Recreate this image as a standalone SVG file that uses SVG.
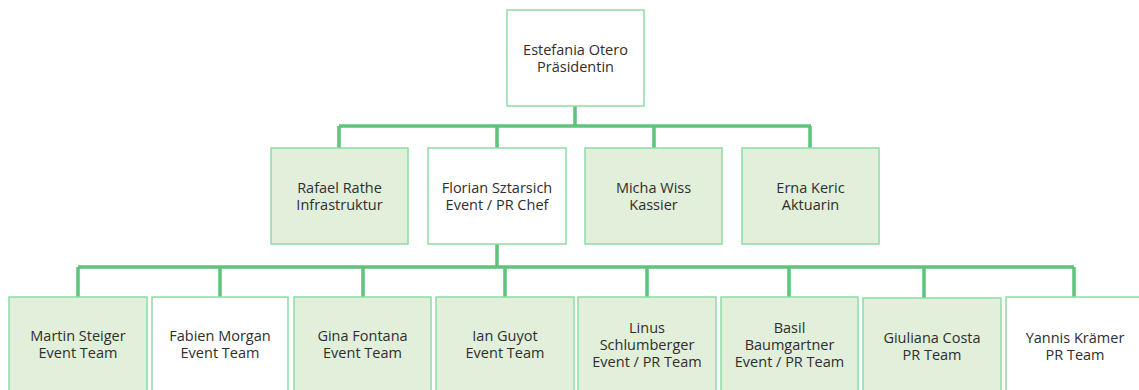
<svg xmlns="http://www.w3.org/2000/svg" width="1139" height="390" viewBox="0 0 1139 390">
<style>
.box{stroke:#8edba4;stroke-width:1.5}
.g{fill:#e2efda}
.w{fill:#ffffff}
.t{font-family:"Open Sans","Liberation Sans",sans-serif;font-size:14.5px;fill:#2e2e2e;text-anchor:middle}
.c{fill:none;stroke:#5cc47b;stroke-width:3.5}
</style>
<rect width="1139" height="390" fill="#ffffff"/>
<g id="connectors">
<path class="c" d="M575 106V126M339 126H811M339 126V148M497 126V148M654 126V148M810 126V148"/>
<path class="c" d="M497 244V267M78 267H1074M78 267V297M220 267V297M363 267V297M505 267V297M647 267V297M789 267V297M924 267V298M1074 267V297"/>
</g>
<g id="n_otero"><rect class="box w" x="507" y="10" width="137" height="96"/><text class="t" x="575.5" y="55">Estefania Otero</text><text class="t" x="575.5" y="72">Präsidentin</text></g>
<g id="n_rathe"><rect class="box g" x="271" y="148" width="137" height="96"/><text class="t" x="339.5" y="193">Rafael Rathe</text><text class="t" x="339.5" y="210">Infrastruktur</text></g>
<g id="n_sztarsich"><rect class="box w" x="428" y="148" width="138" height="96"/><text class="t" x="497" y="193">Florian Sztarsich</text><text class="t" x="497" y="210">Event / PR Chef</text></g>
<g id="n_wiss"><rect class="box g" x="585" y="148" width="137" height="96"/><text class="t" x="653.5" y="193">Micha Wiss</text><text class="t" x="653.5" y="210">Kassier</text></g>
<g id="n_keric"><rect class="box g" x="742" y="148" width="137" height="96"/><text class="t" x="810.5" y="193">Erna Keric</text><text class="t" x="810.5" y="210">Aktuarin</text></g>
<g id="n_steiger"><rect class="box g" x="9" y="297" width="138" height="96"/><text class="t" x="78" y="341">Martin Steiger</text><text class="t" x="78" y="358">Event Team</text></g>
<g id="n_morgan"><rect class="box w" x="152" y="297" width="136" height="96"/><text class="t" x="220" y="341">Fabien Morgan</text><text class="t" x="220" y="358">Event Team</text></g>
<g id="n_fontana"><rect class="box g" x="294" y="297" width="137" height="96"/><text class="t" x="362.5" y="341">Gina Fontana</text><text class="t" x="362.5" y="358">Event Team</text></g>
<g id="n_guyot"><rect class="box g" x="436" y="297" width="138" height="96"/><text class="t" x="505" y="341">Ian Guyot</text><text class="t" x="505" y="358">Event Team</text></g>
<g id="n_schlumberger"><rect class="box g" x="578" y="297" width="138" height="96"/><text class="t" x="647" y="333">Linus</text><text class="t" x="647" y="350">Schlumberger</text><text class="t" x="647" y="367">Event / PR Team</text></g>
<g id="n_baumgartner"><rect class="box g" x="721" y="297" width="137" height="96"/><text class="t" x="789.5" y="333">Basil</text><text class="t" x="789.5" y="350">Baumgartner</text><text class="t" x="789.5" y="367">Event / PR Team</text></g>
<g id="n_costa"><rect class="box g" x="863" y="298" width="138" height="96"/><text class="t" x="932" y="343">Giuliana Costa</text><text class="t" x="932" y="360">PR Team</text></g>
<g id="n_kraemer"><rect class="box w" x="1006" y="297" width="138" height="96"/><text class="t" x="1075" y="343">Yannis Krämer</text><text class="t" x="1075" y="360">PR Team</text></g>
</svg>
